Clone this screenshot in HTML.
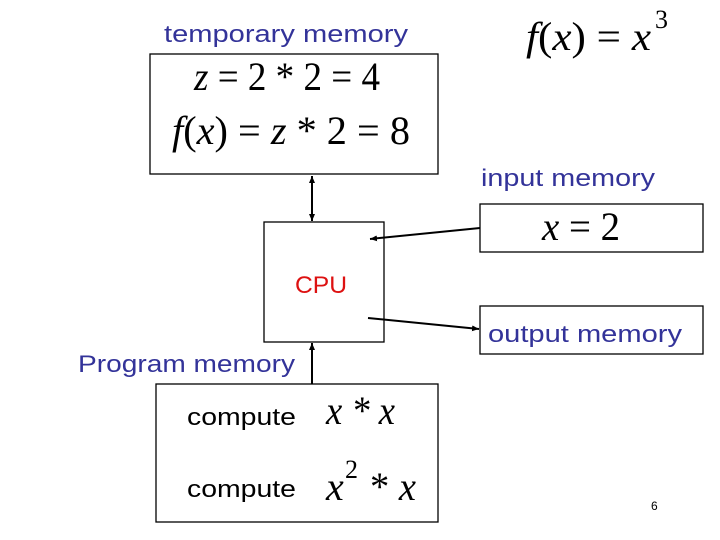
<!DOCTYPE html>
<html><head><meta charset="utf-8"><style>body{margin:0;background:#fff}svg{display:block}</style></head><body>
<svg width="720" height="540" xmlns="http://www.w3.org/2000/svg">
<defs><marker id="a" markerWidth="8" markerHeight="8" refX="7" refY="4" orient="auto-start-reverse" markerUnits="userSpaceOnUse"><path d="M0,1 L7,4 L0,7 z" fill="#000"/></marker></defs>
<g font-family="Liberation Sans, sans-serif" fill="#333399" font-size="24" lengthAdjust="spacingAndGlyphs">
<text x="164" y="42" textLength="244" lengthAdjust="spacingAndGlyphs">temporary memory</text>
<text x="481" y="186" textLength="174" lengthAdjust="spacingAndGlyphs">input memory</text>
<text x="488" y="342" textLength="194" lengthAdjust="spacingAndGlyphs">output memory</text>
<text x="78" y="372" textLength="217" lengthAdjust="spacingAndGlyphs">Program memory</text>
</g>
<text x="295" y="293" font-family="Liberation Sans, sans-serif" font-size="24" fill="#dd1111" textLength="52" lengthAdjust="spacingAndGlyphs">CPU</text>
<g fill="none" stroke="#000" stroke-width="1.3">
<rect x="150" y="54" width="288" height="120"/>
<rect x="264" y="222" width="120" height="120"/>
<rect x="480" y="204" width="223" height="48"/>
<rect x="480" y="306" width="223" height="48"/>
<rect x="156" y="384" width="282" height="138"/>
<line x1="312" y1="176" x2="312" y2="221" marker-start="url(#a)" marker-end="url(#a)" stroke-width="2"/>
<line x1="480" y1="228" x2="370" y2="239" marker-end="url(#a)" stroke-width="2"/>
<line x1="368" y1="318" x2="479" y2="329" marker-end="url(#a)" stroke-width="2"/>
<line x1="312" y1="384" x2="312" y2="343" marker-end="url(#a)" stroke-width="2"/>
</g>
<g font-family="Liberation Serif, serif" font-size="40" fill="#000">
<text x="526" y="50" textLength="125" lengthAdjust="spacingAndGlyphs"><tspan font-style="italic">f</tspan>(<tspan font-style="italic">x</tspan>) = <tspan font-style="italic">x</tspan></text>
<text x="655" y="28" font-size="26">3</text>
<text x="194" y="90" textLength="186" lengthAdjust="spacingAndGlyphs"><tspan font-style="italic">z</tspan> = 2 * 2 = 4</text>
<text x="172" y="144" textLength="238" lengthAdjust="spacingAndGlyphs"><tspan font-style="italic">f</tspan>(<tspan font-style="italic">x</tspan>) = <tspan font-style="italic">z</tspan> * 2 = 8</text>
<text x="542" y="240" textLength="78" lengthAdjust="spacingAndGlyphs"><tspan font-style="italic">x</tspan> = 2</text>
<text x="326" y="424" font-style="italic" textLength="69" lengthAdjust="spacingAndGlyphs">x * x</text>
<text x="326" y="500" font-style="italic">x</text>
<text x="345" y="478" font-size="26">2</text>
<text x="370" y="500" textLength="46" lengthAdjust="spacingAndGlyphs">* <tspan font-style="italic">x</tspan></text>
</g>
<g font-family="Liberation Sans, sans-serif" font-size="24" fill="#000">
<text x="187" y="425" textLength="109" lengthAdjust="spacingAndGlyphs">compute</text>
<text x="187" y="497" textLength="109" lengthAdjust="spacingAndGlyphs">compute</text>
</g>
<text x="651" y="510" font-family="Liberation Sans, sans-serif" font-size="12">6</text>
</svg>
</body></html>
